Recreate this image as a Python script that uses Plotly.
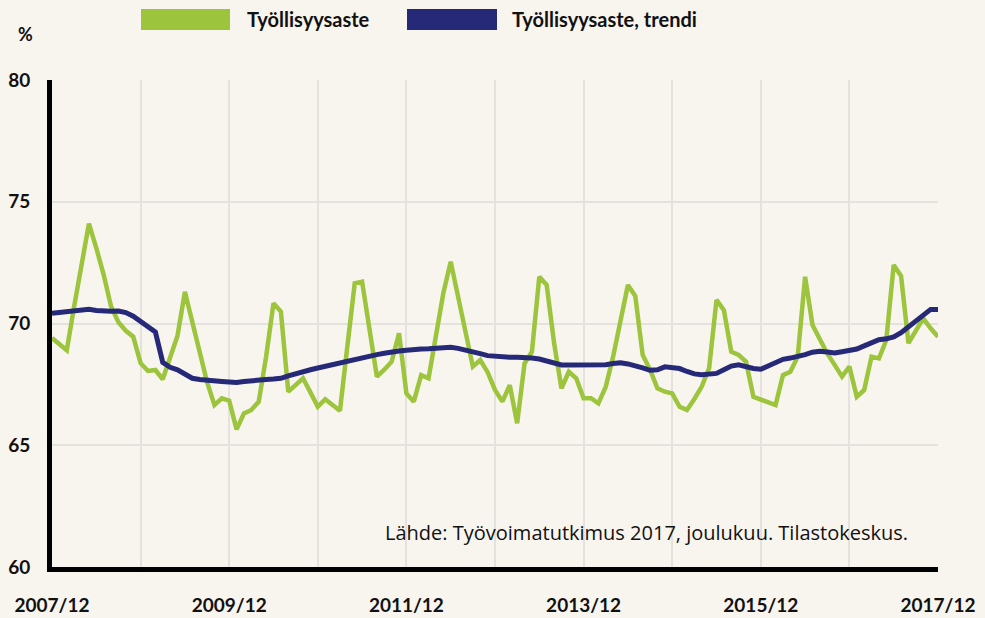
import plotly.graph_objects as go

# Monthly data 2007/12 .. 2017/12 (121 months)
tyollisyysaste = [
    69.4, 69.15, 68.9, 70.7, 72.4, 74.1, 73.1, 72.0, 70.7, 70.05, 69.7, 69.46,
    68.37, 68.05, 68.09, 67.71, 68.6, 69.5, 71.3, 70.1, 68.85, 67.6, 66.65, 66.93,
    66.83, 65.65, 66.31, 66.45, 66.79, 68.64, 70.83, 70.49, 67.2, 67.48, 67.75, 67.17,
    66.58, 66.89, 66.65, 66.42, 69.05, 71.65, 71.72, 69.8, 67.82, 68.1, 68.43, 69.6,
    67.13, 66.79, 67.88, 67.75, 69.5, 71.24, 72.54, 71.1, 69.66, 68.23, 68.5, 68.0,
    67.27, 66.79, 67.47, 65.9, 68.36, 68.84, 71.92, 71.58, 69.2, 67.34, 68.02, 67.75,
    66.93, 66.93, 66.72, 67.4, 68.64, 70.1, 71.58, 71.13, 68.71, 68.1, 67.34, 67.2,
    67.13, 66.58, 66.45, 66.9, 67.41, 68.16, 70.97, 70.55, 68.84, 68.71, 68.43, 66.99,
    66.88, 66.77, 66.65, 67.88, 68.02, 68.64, 71.92, 69.94, 69.35, 68.77, 68.3, 67.82,
    68.23, 66.99, 67.27, 68.64, 68.57, 69.32, 72.4, 71.95, 69.19, 69.7, 70.21, 69.8,
    69.46,
]
trendi = [
    70.42, 70.45, 70.47, 70.49, 70.54, 70.58, 70.53, 70.49, 70.5, 70.51, 70.45, 70.3,
    70.07, 69.85, 69.65, 68.4, 68.2, 68.1, 67.92, 67.75, 67.7, 67.66, 67.64, 67.62,
    67.6, 67.58, 67.62, 67.66, 67.69, 67.7, 67.72, 67.75, 67.85, 67.95, 68.02, 68.1,
    68.17, 68.24, 68.33, 68.42, 68.49, 68.55, 68.61, 68.66, 68.72, 68.78, 68.84, 68.87,
    68.9, 68.94, 68.95, 68.96, 68.98, 69.0, 69.02, 68.98, 68.92, 68.84, 68.76, 68.68,
    68.64, 68.62, 68.61, 68.61, 68.61, 68.58, 68.54, 68.45, 68.35, 68.3, 68.3, 68.3,
    68.3, 68.3, 68.3, 68.31, 68.36, 68.39, 68.34, 68.28, 68.18, 68.08, 68.1, 68.22,
    68.2, 68.15, 68.03, 67.93, 67.9, 67.9, 67.95, 68.1, 68.25, 68.3, 68.22, 68.15,
    68.12, 68.25, 68.4, 68.53, 68.58, 68.64, 68.72, 68.82, 68.86, 68.83, 68.79, 68.84,
    68.9, 68.95, 69.08, 69.22, 69.33, 69.37, 69.45, 69.62, 69.85, 70.1, 70.35, 70.58,
    70.58,
]
months = list(range(len(tyollisyysaste)))
tick_positions = list(range(0, 121, 12))
tick_labels = ["2007/12", "", "2009/12", "", "2011/12", "", "2013/12", "", "2015/12", "", "2017/12"]
y_ticks = [60, 65, 70, 75, 80]

GREEN = "#9cc43c"
NAVY = "#262878"
BG = "#f8f4ee"
GRID = "#e4e2de"
FONT = "Lato"

fig = go.Figure()
fig.add_trace(go.Scatter(x=months, y=tyollisyysaste, mode="lines", name="Työllisyysaste",
                         line=dict(color=GREEN, width=4.5)))
fig.add_trace(go.Scatter(x=months, y=trendi, mode="lines", name="Työllisyysaste, trendi",
                         line=dict(color=NAVY, width=5)))

W, H = 985, 618
L, R, T, B = 52, 47, 80, 51
pw, ph = W - L - R, H - T - B

def px(xp):
    return (xp - L) / pw

def py(yp):
    return (H - B - yp) / ph

fig.update_layout(
    width=W, height=H,
    margin=dict(l=L, r=R, t=T, b=B, autoexpand=False),
    paper_bgcolor=BG, plot_bgcolor=BG,
    showlegend=False,
    font=dict(family=FONT, color="#111111"),
    xaxis=dict(range=[0, 120], tickvals=tick_positions, ticktext=tick_labels,
               automargin=False,
               showgrid=True, gridcolor=GRID, gridwidth=1.5, zeroline=False,
               showline=True, linecolor="black", linewidth=5,
               ticks="", ticklabelstandoff=17,
               tickfont=dict(family=FONT, size=19, color="#111111", weight="bold")),
    yaxis=dict(range=[60, 80], tickvals=y_ticks, ticktext=[str(v) for v in y_ticks],
               automargin=False,
               showgrid=True, gridcolor=GRID, gridwidth=1.5, zeroline=False,
               showline=True, linecolor="black", linewidth=5,
               ticks="", ticklabelstandoff=13,
               tickfont=dict(family=FONT, size=19, color="#111111", weight="bold")),
)

# legend drawn manually
fig.add_shape(type="rect", xref="paper", yref="paper", x0=px(141), x1=px(230), y0=py(30), y1=py(9),
              fillcolor=GREEN, line=dict(width=0))
fig.add_shape(type="rect", xref="paper", yref="paper", x0=px(407), x1=px(497), y0=py(30), y1=py(9),
              fillcolor=NAVY, line=dict(width=0))
fig.add_annotation(xref="paper", yref="paper", x=px(245), y=py(19), text="Työllisyysaste",
                   showarrow=False, xanchor="left", yanchor="middle",
                   font=dict(family=FONT, size=20, color="#111111", weight="bold"))
fig.add_annotation(xref="paper", yref="paper", x=px(510), y=py(19), text="Työllisyysaste, trendi",
                   showarrow=False, xanchor="left", yanchor="middle",
                   font=dict(family=FONT, size=20, color="#111111", weight="bold"))
fig.add_annotation(xref="paper", yref="paper", x=px(25), y=py(34), text="%",
                   showarrow=False, xanchor="center", yanchor="middle",
                   font=dict(family=FONT, size=18, color="#111111", weight="bold"))
fig.add_annotation(xref="paper", yref="paper", x=px(910), y=py(532),
                   text="Lähde: Työvoimatutkimus 2017, joulukuu. Tilastokeskus.",
                   showarrow=False, xanchor="right", yanchor="middle",
                   font=dict(family="Open Sans", size=20, color="#111111"))

fig.write_html(
    "out.html",
    config={"displayModeBar": False},
    post_script="document.body.style.margin='0';document.body.style.overflow='hidden';"
                "document.body.style.background='" + BG + "';",
)
